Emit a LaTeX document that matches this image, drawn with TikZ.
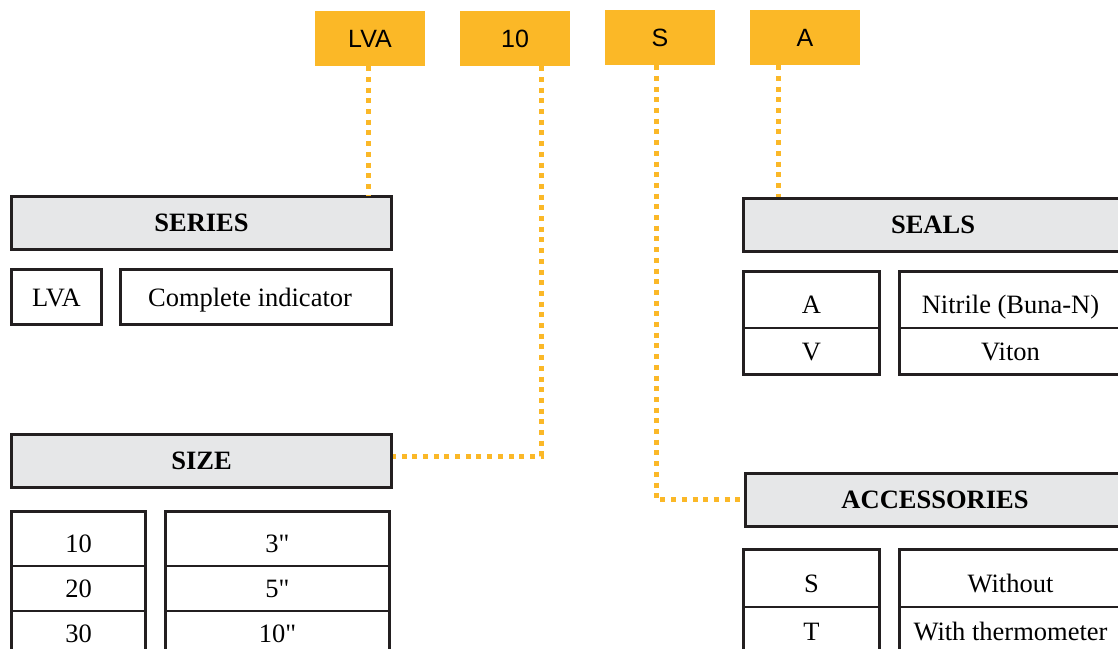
\documentclass[tikz,border=0pt]{standalone}
\usepackage{fontspec}
\setmainfont{Liberation Serif}
\newfontfamily\codefont{Liberation Sans}
\usetikzlibrary{positioning}
\definecolor{codeorange}{RGB}{251,184,39}
\definecolor{headgray}{RGB}{230,231,232}
\definecolor{inkgray}{RGB}{35,31,32}

\begin{document}
\begin{tikzpicture}[
  x=1pt, y=-1pt,
  font=\fontsize{26.5}{30}\selectfont,
  code/.style={fill=codeorange, minimum width=110pt, minimum height=55pt,
               inner sep=0pt, font=\codefont\fontsize{25}{28}\selectfont},
  head/.style={draw=inkgray, line width=3pt, fill=headgray,
               minimum width=380pt, minimum height=53pt, inner sep=0pt,
               font=\bfseries\fontsize{26.5}{30}\selectfont},
  cell/.style={draw=inkgray, line width=1.5pt, outer sep=0pt, inner sep=0pt,
               minimum height=45pt, text height=18pt, text depth=0pt},
  firstcell/.style={cell, minimum height=54.5pt, text height=28pt, anchor=north},
  single/.style={cell, line width=3pt, minimum height=55pt},
  frame/.style={draw=inkgray, line width=3pt},
  lead/.style={draw=codeorange, line width=5pt, dash pattern=on 5pt off 5.7pt}
]
  \useasboundingbox (0,0) rectangle (1118,648);
  \clip (0,0) rectangle (1118,648);

  \node[code] (clva) at (370,38.5) {LVA};
  \node[code] (c10)  at (515,38.5) {10};
  \node[code] (cs)   at (660,37.5) {S};
  \node[code] (ca)   at (805,37.5) {A};

  \node[head] (series) at (201.5,223)   {SERIES};
  \node[head] (size)   at (201.5,461)   {SIZE};
  \node[head] (seals)  at (933,225)     {SEALS};
  \node[head] (acc)    at (935,499.5)   {ACCESSORIES};

  \node[single, minimum width=90pt]  (lvacode) at (56.5,297) {LVA};
  \node[single, minimum width=271pt] (lvadesc) at (256,297)  {Complete indicator\kern12pt};

  \node[firstcell, minimum width=134pt] (s10) at (78.5,511.5) {10};
  \node[cell, minimum width=134pt, below=0pt of s10] (s20) {20};
  \node[cell, minimum width=134pt, below=0pt of s20] (s30) {30};
  \node[firstcell, minimum width=224pt] (s3in) at (277.5,511.5) {3\textquotedbl};
  \node[cell, minimum width=224pt, below=0pt of s3in] (s5in)  {5\textquotedbl};
  \node[cell, minimum width=224pt, below=0pt of s5in] (s10in) {10\textquotedbl};
  \draw[frame] (s10.north west) rectangle (s30.south east);
  \draw[frame] (s3in.north west) rectangle (s10in.south east);

  \node[firstcell, minimum width=136pt, minimum height=56.5pt] (sa) at (811.5,271.5) {A};
  \node[cell, minimum width=136pt, minimum height=46.5pt, below=0pt of sa] (sv) {V};
  \node[firstcell, minimum width=222pt, minimum height=56.5pt] (snbr) at (1010.5,271.5) {Nitrile (Buna-N)};
  \node[cell, minimum width=222pt, minimum height=46.5pt, below=0pt of snbr] (sviton) {Viton};
  \draw[frame] (sa.north west) rectangle (sv.south east);
  \draw[frame] (snbr.north west) rectangle (sviton.south east);

  \node[firstcell, minimum width=136pt, minimum height=57.5pt] (as) at (811.5,549.5) {S};
  \node[cell, minimum width=136pt, minimum height=48pt, below=0pt of as] (at) {T};
  \node[firstcell, minimum width=222pt, minimum height=57.5pt] (awo) at (1010.5,549.5) {Without};
  \node[cell, minimum width=222pt, minimum height=48pt, below=0pt of awo] (ath) {With thermometer};
  \draw[frame] (as.north west) rectangle (at.south east);
  \draw[frame] (awo.north west) rectangle (ath.south east);

  \draw[lead] ([xshift=-2pt]clva.south) -- ([xshift=-2pt]clva.south |- series.north);
  \draw[lead] ([xshift=26pt]c10.south) |- ([yshift=5pt]size.east);
  \draw[lead] ([xshift=-4pt]cs.south) |- (acc.west);
  \draw[lead] ([xshift=-27pt]ca.south) -- ([xshift=-27pt]ca.south |- seals.north);
\end{tikzpicture}
\end{document}
